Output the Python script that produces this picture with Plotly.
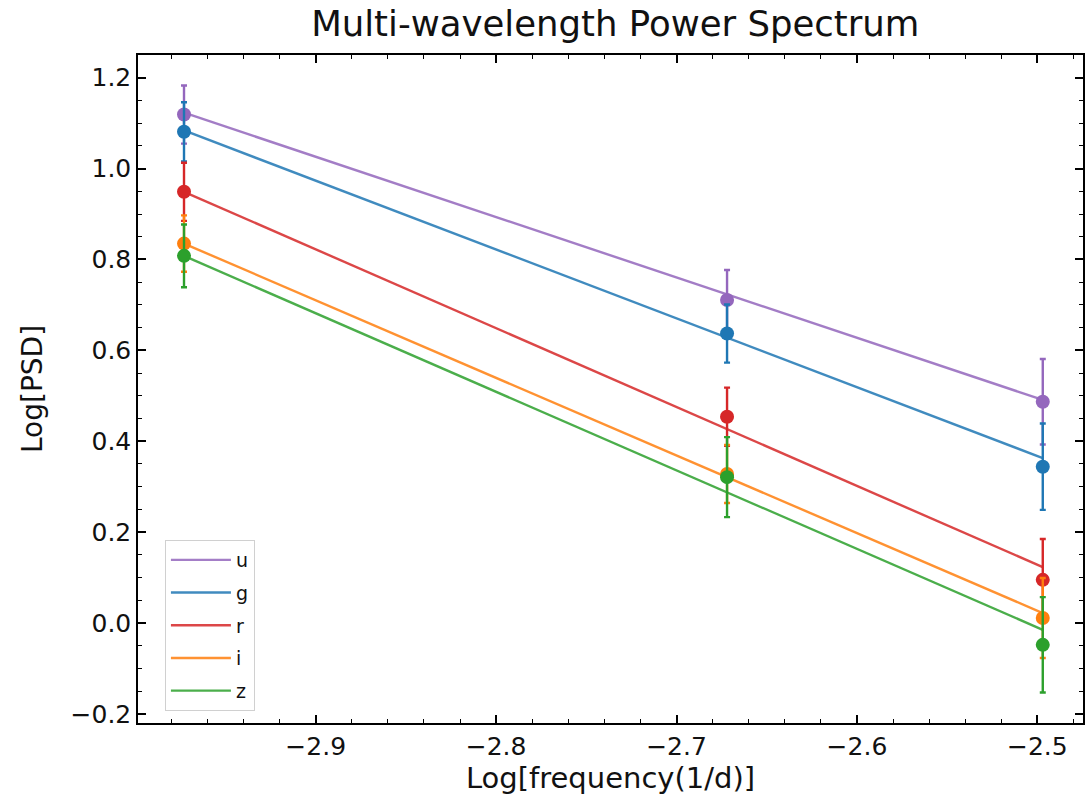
import plotly.graph_objects as go

bands = ["u", "g", "r", "i", "z"]
colors = ["#9467bd", "#1f77b4", "#d62728", "#ff7f0e", "#2ca02c"]
log_freq = [-2.973, -2.672, -2.497]
log_psd = {
    "u": [1.119, 0.711, 0.487],
    "g": [1.081, 0.637, 0.344],
    "r": [0.949, 0.454, 0.095],
    "i": [0.835, 0.328, 0.011],
    "z": [0.808, 0.321, -0.048],
}
log_psd_err = {
    "u": [0.064, 0.066, 0.094],
    "g": [0.065, 0.064, 0.095],
    "r": [0.064, 0.064, 0.090],
    "i": [0.062, 0.064, 0.088],
    "z": [0.069, 0.088, 0.105],
}
# linear-fit line values read at the first and last frequency
fit_start = {"u": 1.123, "g": 1.084, "r": 0.949, "i": 0.835, "z": 0.808}
fit_end = {"u": 0.491, "g": 0.363, "r": 0.123, "i": 0.022, "z": -0.015}

font = "DejaVu Sans"
fig = go.Figure()
for b, c in zip(bands, colors):
    fig.add_trace(go.Scatter(
        x=[log_freq[0], log_freq[-1]], y=[fit_start[b], fit_end[b]],
        mode="lines", line=dict(color=c, width=2.4), opacity=0.85,
        name=b, legendgroup=b, showlegend=True))
    fig.add_trace(go.Scatter(
        x=log_freq, y=log_psd[b], mode="markers",
        marker=dict(color=c, size=14),
        error_y=dict(type="data", array=log_psd_err[b], color=c, thickness=2.4, width=3),
        name=b, legendgroup=b, showlegend=False))

axis_common = dict(
    showgrid=False, zeroline=False, showline=True, linecolor="black", linewidth=1.5,
    mirror="allticks", ticks="inside", ticklen=8, tickwidth=1.5, tickcolor="black",
    tickfont=dict(family=font, size=25, color="#111"),
)
fig.update_xaxes(range=[-2.9985, -2.4747], dtick=0.1, tick0=-2.9, tickformat=".1f",
                 minor=dict(dtick=0.02, tick0=-2.9, ticks="inside", ticklen=4, tickcolor="black", tickwidth=1.2),
                 title=dict(text="Log[frequency(1/d)]", font=dict(family=font, size=29, color="#111"), standoff=8),
                 **axis_common)
fig.update_yaxes(range=[-0.22, 1.25], dtick=0.2, tick0=0, tickformat=".1f",
                 minor=dict(dtick=0.05, tick0=0, ticks="inside", ticklen=4, tickcolor="black", tickwidth=1.2),
                 title=dict(text="Log[PSD]", font=dict(family=font, size=28, color="#111"), standoff=20),
                 **axis_common)
fig.update_layout(
    width=1089, height=802,
    margin=dict(l=138, r=4, t=55, b=79),
    paper_bgcolor="white", plot_bgcolor="white",
    title=dict(text="Multi-wavelength Power Spectrum", x=0.565, xanchor="center", y=0.97, yanchor="middle",
               font=dict(family=font, size=35.5, color="#111")),
    legend=dict(x=0.0285, y=0.018, xanchor="left", yanchor="bottom", bgcolor="white",
                bordercolor="#d0d0d0", borderwidth=1, tracegroupgap=5, itemwidth=60,
                font=dict(family=font, size=19, color="#111")),
    showlegend=True,
)
fig.write_html("out.html")
